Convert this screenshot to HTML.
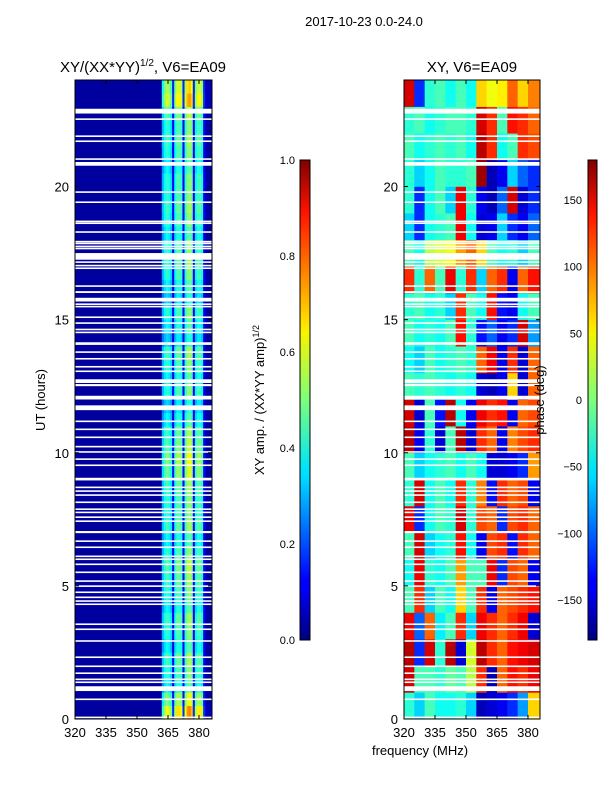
<!DOCTYPE html>
<html><head><meta charset="utf-8"><style>
body{margin:0;background:#fff;width:600px;height:800px;overflow:hidden;font-family:"Liberation Sans","DejaVu Sans",sans-serif}
svg text{font-family:"Liberation Sans","DejaVu Sans",sans-serif;fill:#000}
</style></head><body>
<svg id="fig" width="600" height="800" xmlns="http://www.w3.org/2000/svg">
<defs>
<linearGradient id="jet" x1="0" y1="1" x2="0" y2="0">
<stop offset="0" stop-color="#00007f"/><stop offset="0.11" stop-color="#0000ff"/><stop offset="0.125" stop-color="#0000ff"/>
<stop offset="0.34" stop-color="#00dcff"/><stop offset="0.36" stop-color="#00e5f7"/><stop offset="0.5" stop-color="#7dff7a"/>
<stop offset="0.64" stop-color="#f7f400"/><stop offset="0.66" stop-color="#ffe100"/><stop offset="0.89" stop-color="#ff1300"/>
<stop offset="1" stop-color="#7f0000"/></linearGradient>
<clipPath id="clipL"><rect x="75" y="80" width="137" height="639"/></clipPath>
<clipPath id="clipR"><rect x="404" y="80" width="136" height="639"/></clipPath>
</defs>
<text x="364" y="26" font-size="13" text-anchor="middle">2017-10-23 0.0-24.0</text>
<text x="143" y="72" font-size="15" text-anchor="middle">XY/(XX*YY)<tspan font-size="10" dy="-6">1/2</tspan><tspan dy="6">, V6=EA09</tspan></text>
<text x="472" y="72" font-size="15" text-anchor="middle">XY, V6=EA09</text>
<g id="left" clip-path="url(#clipL)"></g>
<g id="right" clip-path="url(#clipR)"></g>
<g id="axes"></g>
<text transform="translate(45,400) rotate(-90)" font-size="13" text-anchor="middle">UT (hours)</text>
<text x="420" y="755" font-size="13" text-anchor="middle">frequency (MHz)</text>
<text transform="translate(264,400) rotate(-90)" font-size="13" text-anchor="middle">XY amp. / (XX*YY amp)<tspan font-size="9" dy="-5">1/2</tspan></text>
<text transform="translate(544,400) rotate(-90)" font-size="13" text-anchor="middle">phase (deg)</text>
<rect x="300" y="160" width="10" height="480" fill="url(#jet)" stroke="#000" stroke-width="1"/>
<rect x="588" y="160" width="9" height="480" fill="url(#jet)" stroke="#000" stroke-width="1"/>
</svg>
<script>
// ---- data ----
const hourTicks=[0,5,10,15,20];
const freqTicks=[320,335,350,365,380];
const ampTicks=[0.0,0.2,0.4,0.6,0.8,1.0];
const phaseTicks=[-150,-100,-50,0,50,100,150];
// amplitude frequency profile, 1 MHz bins from 320
const ampProfile=[0.03,0.03,0.03,0.03,0.03,0.03,0.03,0.03,0.03,0.03,0.03,0.03,0.03,0.03,0.03,0.03,0.03,0.03,0.03,0.03,
0.03,0.03,0.03,0.03,0.03,0.03,0.03,0.03,0.03,0.03,0.03,0.03,0.03,0.03,0.03,0.03,0.03,0.03,0.03,0.03,0.03,0.03,
0.3,0.38,0.42,0.4,0.35,0.12,0.38,0.45,0.45,0.42,0.12,0.42,0.5,0.52,0.48,0.12,0.38,0.44,0.44,0.4,0.12,0.04,0.04,0.04];
// half-hour amplitude scale (from 0h)
const ampScale=[1.45,1.2,0.9,1.0,1.05,0.9,1.0,1.05,0.9,1.0,1.05,1.1,1.0,0.9,1.05,1.0,1.0,1.05,1.15,1.2,1.1,1.05,0.9,0.8,
1.0,0.9,1.0,1.05,0.8,0.9,1.0,0.8,0.9,1.0,1.05,1.0,0.9,1.0,1.05,1.0,1.0,0.9,1.0,1.05,1.0,1.1,1.4,1.3];
// phase grid: rows = hours 0..23, columns = 5 MHz bins from 320
const phaseCols=[320,325,330,335,340,345,350,355,360,365,370,375,380];
const phaseGrid=[
[-30,-60,-20,-40,-40,-30,-60,-160,-150,-140,-120,-80,60],
[150,-20,-20,-30,-10,-20,20,120,-160,100,130,120,140],
[160,-120,150,-30,160,-150,30,160,120,100,130,140,150],
[140,-100,100,-50,-20,120,-60,140,120,100,120,140,-150],
[-20,120,-60,-20,-40,60,-20,120,-140,100,110,120,130],
[-40,140,-30,-40,-20,80,-20,-20,140,-120,110,100,-140],
[-20,150,-60,-40,-30,130,-40,-140,110,120,-130,120,100],
[140,-120,-40,-20,-30,150,-30,110,100,-120,110,120,100],
[-30,150,-40,-20,-40,120,-30,90,-130,120,100,110,-140],
[-20,-60,-40,-30,-20,-40,-20,-40,-150,-150,-140,-120,80],
[160,-140,-30,-150,-20,160,-150,120,100,-140,90,110,120],
[150,-150,-20,-130,160,-40,-140,140,120,130,-140,100,110],
[-20,-30,-20,-30,-40,-30,-40,-150,-160,-140,60,-150,100],
[-40,-60,-20,-40,-30,-20,-30,100,140,-140,120,-150,100],
[-20,-40,-30,-40,-20,130,-30,-130,-100,-140,-120,150,-80],
[-30,-20,-40,-30,-60,120,-20,-40,130,-130,-140,-40,-20],
[120,-30,100,-20,140,-30,120,-60,100,120,-140,100,130],
[-20,-40,20,30,40,80,100,60,-20,-40,-30,-60,-20],
[-60,-120,-40,-30,-20,140,-40,-150,-140,-60,-120,-140,-100],
[-30,-120,-40,-20,-60,140,-30,-140,-160,-100,150,-150,-120],
[-30,-60,-40,-20,-30,-30,-20,170,-160,-140,-60,-100,-120],
[-20,-40,-30,-20,-30,-20,-40,160,120,-40,-20,120,110],
[-30,-20,-40,-30,-20,-20,-30,150,120,-20,130,120,100],
[150,-120,-30,-20,-40,-20,-40,60,40,50,100,60,90]];
// flagged (blank) time ranges, hours
const gapStart=[0.04,0.71,1.05,1.35,1.46,1.69,1.95,2.29,2.9,3.34,3.53,4.28,4.4,4.54,4.73,4.96,5.15,5.48,5.78,5.97,6.08,6.42,6.65,6.98,7.4,7.55,7.73,7.85,8.11,8.38,8.53,8.67,8.96,9.5,9.73,10.0,10.2,10.55,10.85,11.15,11.6,12.0,12.5,12.62,13.03,13.2,13.5,13.75,14.05,14.5,14.6,14.84,15.06,15.47,15.55,15.68,16.0,16.23,16.9,17.0,17.13,17.25,17.65,17.73,17.84,17.9,18.26,18.6,18.67,19.38,19.76,20.78,21.0,21.67,21.86,22.5,22.74];
const gapWidth=[0.05,0.06,0.18,0.06,0.06,0.06,0.06,0.06,0.06,0.06,0.06,0.06,0.06,0.06,0.06,0.06,0.06,0.06,0.06,0.06,0.06,0.06,0.06,0.08,0.06,0.06,0.06,0.06,0.06,0.06,0.06,0.06,0.1,0.06,0.06,0.06,0.06,0.06,0.06,0.06,0.18,0.14,0.08,0.14,0.06,0.06,0.06,0.06,0.1,0.05,0.06,0.06,0.06,0.05,0.06,0.14,0.07,0.06,0.06,0.06,0.06,0.25,0.05,0.05,0.05,0.06,0.06,0.05,0.05,0.06,0.06,0.14,0.06,0.06,0.06,0.06,0.18];
// ---- scales ----
const NS="http://www.w3.org/2000/svg";
const yH=h=>719-h*(639/24);
const xL=f=>75+(f-320)*(124/60);
const xR=f=>404+(f-320)*(124/60);
const yAmp=v=>640-v*480;
const yPh=p=>400-p*(480/360);
function jet(t){t=Math.max(0,Math.min(1,t));
 const c=x=>Math.round(255*Math.max(0,Math.min(1,x)));
 return `rgb(${c(1.5-Math.abs(4*t-3))},${c(1.5-Math.abs(4*t-2))},${c(1.5-Math.abs(4*t-1))})`;}
function mk(tag,attrs,parent){const e=document.createElementNS(NS,tag);for(const k in attrs)e.setAttribute(k,attrs[k]);parent.appendChild(e);return e;}
const L=document.getElementById('left'),R=document.getElementById('right'),A=document.getElementById('axes');
// left heatmap
const lbg=mk('rect',{x:75,y:80,width:137,height:639,fill:jet(0.03)},L);


for(let r=0;r<ampScale.length;r++){for(let i=0;i<ampProfile.length;i++){
 const v=ampProfile[i]*ampScale[r]; if(v<0.05) continue;
 const x0=xL(320+i),x1=xL(321+i),y0=yH((r+1)/2),y1=yH(r/2);
 const c=mk('rect',{x:x0,y:y0,width:x1-x0+0.3,height:y1-y0+0.3,fill:jet(v)},L);
 
 
}}
// right heatmap
for(let h=0;h<phaseGrid.length;h++){for(let j=0;j<phaseCols.length;j++){
 const x0=xR(phaseCols[j]),x1=j<phaseCols.length-1?xR(phaseCols[j+1]):xR(387);
 const y0=yH(h+1),y1=yH(h);
 const c=mk('rect',{x:x0,y:y0,width:x1-x0+0.3,height:y1-y0+0.3,fill:jet((phaseGrid[h][j]+180)/360)},R);
 
 
}}
// gaps
for(let g=0;g<gapStart.length;g++){
 [[L,75,137],[R,404,136]].forEach(([p,x,w])=>{
  const e=mk('rect',{x:x,y:yH(gapStart[g]+gapWidth[g]),width:w,height:Math.max(1.6,gapWidth[g]*639/24),fill:'#fff'},p);
  
  
 });
}
// axes frames & ticks
[[75,137,xL,'left'],[404,136,xR,'right']].forEach(([x,w,sx,nm])=>{
 const f=mk('rect',{x:x,y:80,width:w,height:639,fill:'none',stroke:'#000','stroke-width':1},A);
 
 
 hourTicks.forEach(h=>{
  const y=yH(h);
  mk('line',{x1:x,y1:y,x2:x+4,y2:y,stroke:'#000'},A);
  mk('line',{x1:x+w,y1:y,x2:x+w-4,y2:y,stroke:'#000'},A);
  const t=mk('text',{x:x-6,y:y+5,'font-size':13,'text-anchor':'end'},A);t.textContent=h;
  
  
 });
 freqTicks.forEach(fq=>{
  const xx=sx(fq);
  mk('line',{x1:xx,y1:719,x2:xx,y2:715,stroke:'#000'},A);
  mk('line',{x1:xx,y1:80,x2:xx,y2:84,stroke:'#000'},A);
  const t=mk('text',{x:xx,y:737,'font-size':13,'text-anchor':'middle'},A);t.textContent=fq;
  
  
 });
});
ampTicks.forEach(v=>{
 const y=yAmp(v);
 mk('line',{x1:300,y1:y,x2:303,y2:y,stroke:'#000'},A);mk('line',{x1:310,y1:y,x2:307,y2:y,stroke:'#000'},A);
 const t=mk('text',{x:295,y:y+4,'font-size':11,'text-anchor':'end'},A);t.textContent=v.toFixed(1);
 
 
});
phaseTicks.forEach(v=>{
 const y=yPh(v);
 mk('line',{x1:588,y1:y,x2:591,y2:y,stroke:'#000'},A);mk('line',{x1:597,y1:y,x2:594,y2:y,stroke:'#000'},A);
 const t=mk('text',{x:582,y:y+4,'font-size':11,'text-anchor':'end'},A);t.textContent=v<0?'\u2212'+(-v):v;
 
 
});
</script>
</body></html>
